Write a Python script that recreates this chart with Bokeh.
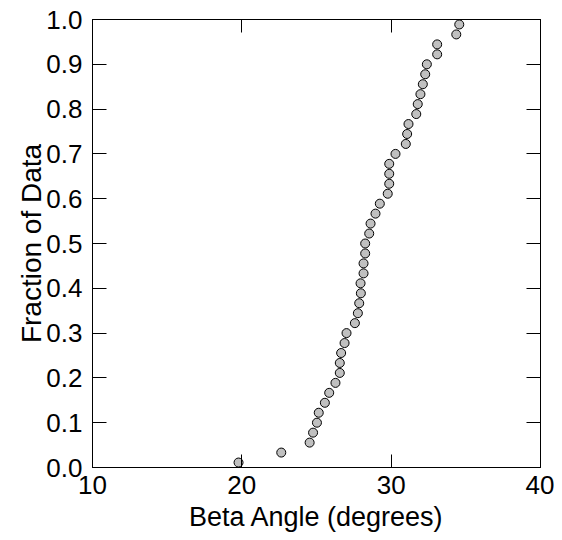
from bokeh.plotting import figure
from bokeh.models import LinearAxis, Range1d, FixedTicker, CustomJSTickFormatter, PrintfTickFormatter
from bokeh.embed import file_html
from bokeh.resources import INLINE

beta_angle = [19.78, 22.64, 24.54, 24.77, 25.03, 25.15, 25.56, 25.85, 26.27, 26.56,
              26.56, 26.65, 26.88, 27.01, 27.57, 27.77, 27.86, 27.97, 27.95, 28.15,
              28.15, 28.26, 28.26, 28.53, 28.62, 28.95, 29.24, 29.77, 29.87, 29.87,
              29.87, 30.29, 30.98, 31.07, 31.16, 31.68, 31.78, 31.96, 32.12, 32.28,
              32.39, 33.08, 33.08, 34.36, 34.56]
n = len(beta_angle)
fraction = [(i + 0.5) / n for i in range(n)]

x_ticks = [10, 20, 30, 40]
y_ticks = [0.0, 0.1, 0.2, 0.3, 0.4, 0.5, 0.6, 0.7, 0.8, 0.9, 1.0]

FONT = "Liberation Sans"
TICK_FS = "26px"
LABEL_FS = "27px"

p = figure(width=554, height=540, output_backend="svg", toolbar_location=None,
           x_range=Range1d(10, 40), y_range=Range1d(0, 1.0),
           x_axis_location=None, y_axis_location=None,
           min_border_left=92, min_border_right=14, min_border_top=19, min_border_bottom=73)
p.grid.visible = False
p.outline_line_color = "black"
p.outline_line_width = 1
p.background_fill_color = "white"
p.border_fill_color = "white"

def style(ax, labels=True):
    ax.axis_line_color = "black"
    ax.major_tick_line_color = "black"
    ax.major_tick_out = 0
    ax.minor_tick_line_color = None
    ax.major_label_text_font = FONT
    ax.major_label_text_color = "black"
    ax.axis_label_text_font = FONT
    ax.axis_label_text_font_style = "normal"
    ax.axis_label_text_font_size = LABEL_FS
    ax.axis_label_text_color = "black"
    if labels:
        ax.major_label_text_font_size = TICK_FS
    else:
        ax.formatter = CustomJSTickFormatter(code="return '';")
        ax.major_label_text_font_size = "1px"
        ax.major_label_standoff = 0

xb = LinearAxis(ticker=FixedTicker(ticks=x_ticks), axis_label="Beta Angle (degrees)")
style(xb)
xb.major_tick_in = 13
xb.major_label_standoff = 8
xb.axis_label_standoff = 5
p.add_layout(xb, "below")

xt = LinearAxis(ticker=FixedTicker(ticks=x_ticks))
style(xt, labels=False)
xt.major_tick_in = 13
p.add_layout(xt, "above")

yl = LinearAxis(ticker=FixedTicker(ticks=y_ticks), axis_label="Fraction of Data",
                formatter=PrintfTickFormatter(format="%.1f"))
style(yl)
yl.axis_label_text_font_size = "28px"
yl.major_tick_in = 14
yl.major_label_standoff = 10
yl.axis_label_standoff = -4
p.add_layout(yl, "left")

yr = LinearAxis(ticker=FixedTicker(ticks=y_ticks))
style(yr, labels=False)
yr.major_tick_in = 14
p.add_layout(yr, "right")

p.scatter(beta_angle, fraction, size=9, marker="circle",
          fill_color="#c0c0c0", line_color="black", line_width=1)

open("out.html", "w").write(file_html(p, INLINE))
